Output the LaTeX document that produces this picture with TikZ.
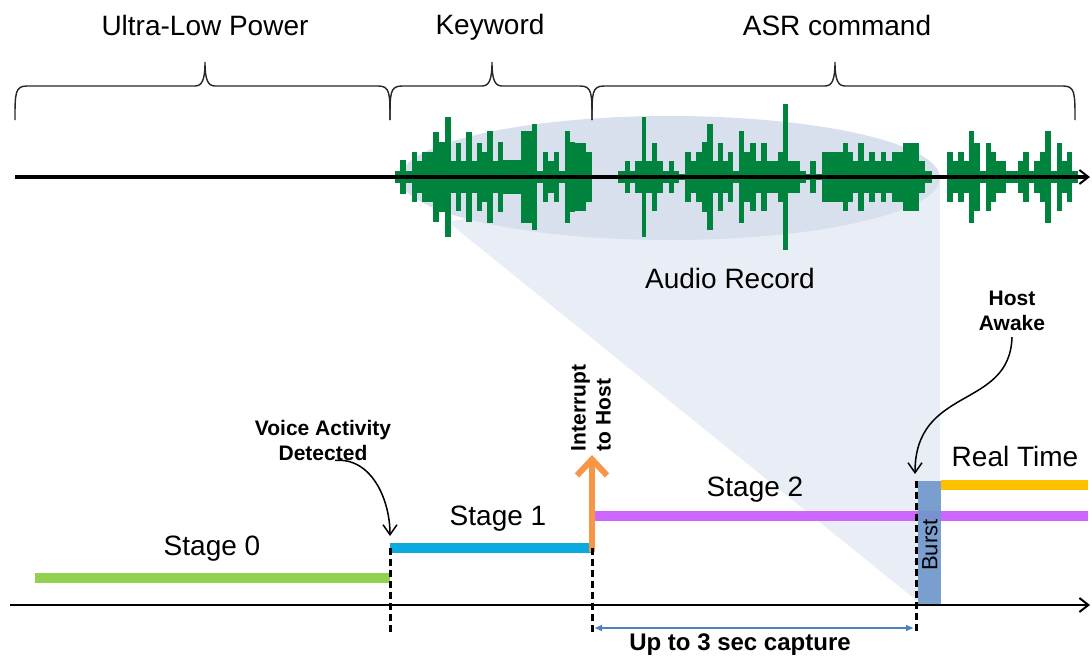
\documentclass[tikz,border=0pt]{standalone}
\usepackage{fontspec}
\setmainfont{Liberation Sans}
\usetikzlibrary{arrows.meta,positioning}
\definecolor{wavegreen}{RGB}{0,132,61}
\definecolor{recfill}{RGB}{216,224,237}
\definecolor{conefill}{RGB}{233,238,246}
\definecolor{stagezero}{RGB}{146,208,80}
\definecolor{stageone}{RGB}{10,170,222}
\definecolor{stagetwo}{RGB}{204,102,255}
\definecolor{realtime}{RGB}{255,192,0}
\definecolor{irqorange}{RGB}{247,150,70}
\definecolor{burstblue}{RGB}{111,151,202}
\definecolor{capblue}{RGB}{79,129,189}

\newcommand{\topbrace}[3]{%
  \draw[bracel] (#1,120) .. controls (#1,93) and (#1,86) .. (#1+12,86) -- (#2-10,86)
    .. controls (#2-3,86) and (#2,80) .. (#2,62) .. controls (#2,80) and (#2+3,86) .. (#2+10,86)
    -- (#3-12,86) .. controls (#3,86) and (#3,93) .. (#3,120);}

\begin{document}
\begin{tikzpicture}[
  x=1pt, y=-1pt,
  biglbl/.style={font=\fontsize{28}{32}\selectfont, inner sep=0pt},
  boldlbl/.style={font=\fontsize{21}{25}\selectfont\bfseries, align=center, inner sep=0pt},
  bracel/.style={line width=1.4pt, black!85},
  wave/.style={fill=wavegreen},
  axis/.style={-{Straight Barb[length=9pt, width=14pt, line width=2pt]}, line width=2.5pt},
  stagebar/.style={line width=10pt},
  cut/.style={line width=3pt, dash pattern=on 7pt off 4pt},
  callout/.style={-{Straight Barb[length=10pt, width=14pt, line width=1.5pt]}, line width=1.5pt}
]
\useasboundingbox (0,0) rectangle (1092,656);

\fill[conefill] (448,222) -- (916,600) -- (940,600) -- (940,178) -- (670,178) -- cycle;
\fill[recfill] (670,178) ellipse [x radius=270, y radius=62];

\topbrace{15}{205}{390}
\topbrace{390}{492}{592}
\topbrace{592}{835}{1075}
\node[biglbl] (ulp) at (205,25) {Ultra-Low Power};
\node[biglbl] (kw) at (490,27) {Keyword};
\node[biglbl] (asr) at (837,25) {ASR command};

\foreach \xe/\h [remember=\xe as \xs (initially 395)] in {
  400/6, 406/17, 412/6, 417/25, 422/16, 433/25, 439/45, 445/35, 451/60, 456/16,
  461/34, 466/16, 472/45, 477/16, 482/34, 487/25, 493/46, 498/16, 503/35, 521/17,
  532/46, 537/53, 543/6, 548/25, 554/16, 559/25, 565/6, 570/46, 575/35, 586/34,
  592/25, 618/0, 625/6, 630/16, 635/6, 642/16, 646/60, 652/16, 657/34, 663/16,
  669/6, 674/16, 679/6, 685/3, 691/25, 696/16, 702/25, 707/35, 713/53, 718/16,
  723/34, 728/16, 733/25, 739/6, 744/46, 750/25, 756/34, 761/16, 767/34, 778/16,
  783/25, 788/73, 800/16, 806/6, 810/3, 816/16, 822/3, 843/25, 848/34, 853/25,
  858/16, 864/34, 869/16, 875/25, 881/16, 886/25, 892/16, 903/25, 919/34, 925/16,
  932/6, 947/0, 953/25, 958/16, 964/25, 969/16, 974/46, 980/34, 986/6, 991/34,
  996/25, 1006/16, 1018/6, 1023/16, 1029/25, 1034/6, 1040/16, 1045/25, 1051/46, 1057/6,
  1062/34, 1067/16, 1072/25, 1078/6}
  \fill[wave] (\xs,177-\h) rectangle (\xe,177+\h);
\coordinate (topstart) at (15,177);
\coordinate (topend) at (1090,177);
\draw[axis, line width=3.5pt] (topstart) -- (topend);
\node[biglbl] (rec) at (730,278) {Audio Record};

\coordinate (t0) at (35,578);
\coordinate (t1) at (390,578);
\coordinate (s1a) at (390,548);
\coordinate (s1b) at (592,548);
\coordinate (s2a) at (595,516);
\coordinate (s2b) at (1088,516);
\coordinate (rta) at (941,485);
\coordinate (rtb) at (1088,485);
\draw[stagebar, stagezero] (t0) -- (t1);
\draw[stagebar, stageone] (s1a) -- (s1b);
\draw[stagebar, stagetwo] (s2a) -- (s2b);
\draw[stagebar, realtime] (rta) -- (rtb);
\fill[burstblue, fill opacity=0.9] (918,481) rectangle (941,605);
\node[font=\fontsize{22}{26}\selectfont, rotate=90, inner sep=0pt] (burst) at (930,545) {Burst};

\node[biglbl] (st0) at (212,549) {Stage 0};
\node[biglbl] (st1) at (498,519) {Stage 1};
\node[biglbl] (st2) at (755,490) {Stage 2};
\node[biglbl] (rt) at (1015,456) {Real Time};

\coordinate (irqfoot) at (592,552);
\coordinate (irqtip) at (592,455);
\draw[-{Straight Barb[length=16pt, width=30pt, line width=6pt]}, irqorange, line width=6pt] (irqfoot) -- (irqtip);
\node[boldlbl, rotate=90, align=left] (irq) at (591,408) {Interrupt\\to Host};

\coordinate (axstart) at (10,605);
\coordinate (axend) at (1090,605);
\draw[axis] (axstart) -- (axend);

\coordinate (vadlow) at (390,634);
\coordinate (irqlow) at (592,634);
\coordinate (hostlow) at (916,634);
\coordinate (hosttop) at (916,481);
\draw[cut] (s1a) -- (vadlow);
\draw[cut] (s1b) -- (irqlow);
\draw[cut] (hosttop) -- (hostlow);

\node[boldlbl] (vad) at (323,440) {Voice Activity\\Detected};
\coordinate (vadtip) at (390,536);
\draw[callout] ([xshift=12pt]vad.south) to[out=5, in=90] (vadtip);

\node[boldlbl] (awake) at (1012,311) {Host\\Awake};
\coordinate (awaketip) at (915,474);
\draw[callout] ([yshift=-6pt]awake.south) .. controls (1010,410) and (915,385) .. (awaketip);

\coordinate (capl) at (594,628);
\coordinate (capr) at (914,628);
\draw[{Latex[length=8pt, width=7pt]}-{Latex[length=8pt, width=7pt]}, capblue, line width=1.5pt] (capl) -- (capr);
\node[boldlbl, font=\fontsize{24}{28}\selectfont\bfseries] (cap) at (740,645) {Up to 3 sec capture};
\end{tikzpicture}
\end{document}
